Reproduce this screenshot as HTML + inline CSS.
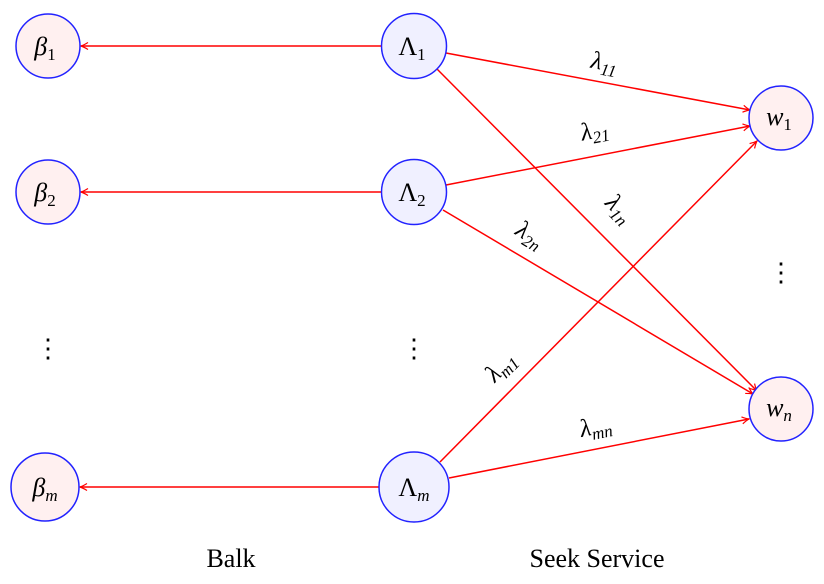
<!DOCTYPE html>
<html><head><meta charset="utf-8"><style>
html,body{margin:0;padding:0;background:#fff;}
svg{display:block;}
text{font-family:"Liberation Serif",serif;fill:#000;}
</style></head><body>
<svg width="824" height="584" viewBox="0 0 824 584">
<defs>
<marker id="ah" markerWidth="10" markerHeight="10" refX="8" refY="5" orient="auto" markerUnits="userSpaceOnUse">
<path d="M1,1.5 Q5,4 8,5 Q5,6 1,8.5" fill="none" stroke="#f00" stroke-width="1.2"/>
</marker>
</defs>
<g stroke="#f00" stroke-width="1.5" fill="none">
<line x1="382" y1="46" x2="81" y2="46" marker-end="url(#ah)"/>
<line x1="382" y1="192" x2="81" y2="192" marker-end="url(#ah)"/>
<line x1="379" y1="487" x2="80" y2="487" marker-end="url(#ah)"/>
<line x1="446" y1="53" x2="750" y2="110" marker-end="url(#ah)"/>
<line x1="437" y1="69" x2="757" y2="391" marker-end="url(#ah)"/>
<line x1="446" y1="185" x2="750" y2="126" marker-end="url(#ah)"/>
<line x1="443" y1="210" x2="753" y2="394" marker-end="url(#ah)"/>
<line x1="440" y1="462" x2="757" y2="141" marker-end="url(#ah)"/>
<line x1="449" y1="478" x2="749" y2="419" marker-end="url(#ah)"/>
</g>
<g stroke="#22f" stroke-width="1.5">
<circle cx="48" cy="46" r="32" fill="#fff0f0"/>
<circle cx="48" cy="192" r="32" fill="#fff0f0"/>
<circle cx="45" cy="487" r="34" fill="#fff0f0"/>
<circle cx="414" cy="46" r="32.5" fill="#f0f0ff"/>
<circle cx="414" cy="192" r="32.5" fill="#f0f0ff"/>
<circle cx="414" cy="487" r="35" fill="#f0f0ff"/>
<circle cx="781" cy="118" r="32" fill="#fff0f0"/>
<circle cx="781" cy="409" r="32" fill="#fff0f0"/>
</g>
<g font-size="26" font-style="italic" text-anchor="middle">
<text x="45" y="55">β<tspan font-size="17" font-style="normal" dy="5">1</tspan></text>
<text x="45" y="201">β<tspan font-size="17" font-style="normal" dy="5">2</tspan></text>
<text x="45" y="496">β<tspan font-size="17" dy="5">m</tspan></text>
<text x="412" y="55" font-style="normal">Λ<tspan font-size="17" dy="5">1</tspan></text>
<text x="412" y="201" font-style="normal">Λ<tspan font-size="17" dy="5">2</tspan></text>
<text x="414" y="496" font-style="normal">Λ<tspan font-size="17" font-style="italic" dy="5">m</tspan></text>
<text x="779" y="125">w<tspan font-size="17" font-style="normal" dy="5">1</tspan></text>
<text x="779" y="416">w<tspan font-size="17" dy="5">n</tspan></text>
</g>
<g font-size="25" font-style="italic" text-anchor="middle">
<text transform="translate(603,70) rotate(10.5)">λ<tspan font-size="17" dy="5">11</tspan></text>
<text transform="translate(614,214) rotate(45)">λ<tspan font-size="17" dy="5">1n</tspan></text>
<text transform="translate(596,138) rotate(-11)">λ<tspan font-size="17" dy="5">21</tspan></text>
<text transform="translate(526,241) rotate(31)">λ<tspan font-size="17" dy="5">2n</tspan></text>
<text transform="translate(506,372) rotate(-45)">λ<tspan font-size="17" dy="5">m1</tspan></text>
<text transform="translate(597,434) rotate(-11)">λ<tspan font-size="17" dy="5">mn</tspan></text>
</g>
<g font-size="26" text-anchor="middle">
<text x="48" y="357">⋮</text>
<text x="414" y="357">⋮</text>
<text x="781" y="281">⋮</text>
<text x="231" y="567">Balk</text>
<text x="597" y="567">Seek Service</text>
</g>
</svg>
</body></html>
